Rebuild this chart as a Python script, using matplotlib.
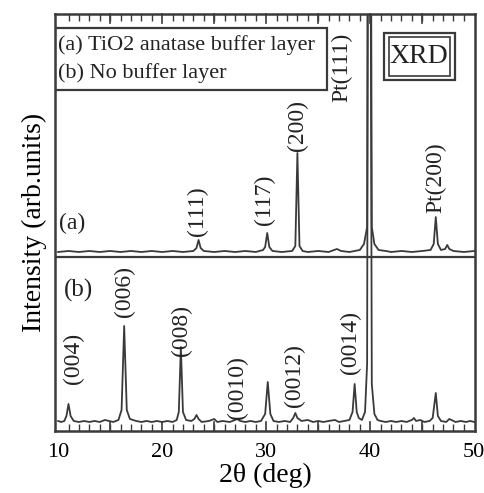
import numpy as np
import matplotlib.pyplot as plt
from matplotlib.patches import Rectangle
from matplotlib.ticker import MultipleLocator

plt.rcParams['font.family'] = ['Liberation Serif', 'DejaVu Serif']

# curve (b): no buffer layer, 2theta (deg) and intensity (arb.)
tt_b = [10.0, 10.3, 10.6, 10.8, 11.0, 11.2, 11.5, 12.0, 12.5, 13.0, 13.5, 14.0, 14.5,
        15.3, 15.8, 16.1, 16.35, 16.6, 16.9, 17.5, 18.0, 18.5, 19.0, 19.5, 20.0, 20.5,
        21.0, 21.4, 21.6, 21.8, 22.0, 22.3, 22.8, 23.1, 23.3, 23.5, 23.8, 24.5, 25.0,
        25.3, 25.8, 26.5, 27.0, 27.2, 27.5, 28.0, 28.5, 29.0, 29.5, 29.9, 30.15, 30.4,
        30.7, 31.2, 31.8, 32.3, 32.6, 32.8, 33.0, 33.4, 34.0, 34.5, 35.0, 35.5, 36.0,
        36.6, 37.0, 37.5, 38.0, 38.3, 38.5, 38.7, 38.9, 39.2, 39.5, 39.7, 39.82, 39.98,
        40.15, 40.4, 40.7, 41.0, 41.5, 42.0, 42.5, 43.0, 43.5, 44.0, 44.2, 44.4, 44.8,
        45.2, 45.7, 46.0, 46.3, 46.5, 46.8, 47.3, 47.6, 47.8, 48.2, 48.7, 49.2, 49.6, 50.0]
int_b = [3, 2, 3, 8, 20, 8, 3, 2, 3, 2, 3, 2, 4,
         2, 4, 14, 98, 14, 5, 3, 2, 3, 2, 3, 2, 3,
         2, 4, 12, 77, 12, 4, 3, 5, 9, 5, 2, 3, 5,
         2, 3, 2, 4, 5, 3, 2, 3, 2, 3, 10, 42, 10,
         3, 2, 3, 2, 6, 11, 6, 3, 4, 2, 3, 2, 3,
         4, 2, 3, 4, 12, 40, 12, 6, 4, 12, 60, 700, 700,
         40, 10, 4, 3, 2, 3, 2, 3, 2, 4, 6, 3, 4,
         2, 3, 6, 31, 8, 3, 2, 5, 4, 2, 3, 2, 3, 2]

# curve (a): TiO2 anatase buffer layer
tt_a = [10.0, 11.0, 12.0, 13.0, 14.0, 15.0, 16.0, 17.0, 18.0, 19.0, 20.0, 21.0, 22.0,
        23.0, 23.3, 23.5, 23.7, 24.0, 25.0, 26.0, 27.0, 28.0, 29.0, 29.7, 29.9, 30.1,
        30.3, 30.6, 31.5, 32.5, 32.8, 33.0, 33.2, 33.5, 34.0, 35.0, 36.0, 36.8, 37.2,
        38.0, 39.0, 39.4, 39.7, 39.82, 39.98, 40.15, 40.4, 40.8, 41.5, 42.0, 43.0, 44.0,
        45.0, 45.8, 46.1, 46.3, 46.5, 46.8, 47.2, 47.4, 47.6, 48.0, 49.0, 50.0]
int_a = [0, 1, 0, 1, 0, 1, 0, 1, 0, 1, 0, 1, 0,
         1, 4, 12, 4, 1, 0, 1, 0, 1, 0, 2, 5, 19,
         5, 1, 0, 1, 6, 99, 6, 1, 0, 1, 0, 3, 1,
         0, 2, 8, 25, 700, 700, 25, 8, 2, 1, 0, 1, 0,
         1, 2, 8, 35, 8, 2, 3, 7, 3, 1, 0, 1]

peak_labels_a = ['(111)', '(117)', '(200)', 'Pt(111)', 'Pt(200)']
peak_pos_a = [23.4, 29.85, 33.0, 37.3, 46.3]
peak_lab_y_a = [220, 231, 305, 364, 253]
peak_labels_b = ['(004)', '(006)', '(008)', '(0010)', '(0012)', '(0014)']
peak_pos_b = [11.45, 16.4, 21.9, 27.25, 32.7, 38.1]
peak_lab_y_b = [73, 139, 100, 43, 55, 88]

off_a = 179
off_b = 7
lc = '#3a3a3a'

fig = plt.figure(figsize=(4.84, 4.93), dpi=100)
ax = fig.add_axes([0.1136, 0.1258, 0.981 - 0.1136, 0.9716 - 0.1258])

ax.plot(tt_b, np.array(int_b) + off_b, color=lc, lw=1.3)
ax.plot(tt_a, np.array(int_a) + off_a, color=lc, lw=1.3)
ax.axhline(174, color=lc, lw=1.6)

ax.set_xlim(9.7, 50.05)
ax.set_ylim(0, 417)

for lab, x, y in zip(peak_labels_a, peak_pos_a, peak_lab_y_a):
    ax.text(x, y, lab, rotation=90, ha='center', va='center', fontsize=17, color='#222')
for lab, x, y in zip(peak_labels_b, peak_pos_b, peak_lab_y_b):
    ax.text(x, y, lab, rotation=90, ha='center', va='center', fontsize=17, color='#222')

ax.text(11.34, 208, '(a)', ha='center', va='center', fontsize=17, color='#222')
ax.text(12.0, 141, '(b)', ha='center', va='center', fontsize=18, color='#222')

# legend box
ax.add_patch(Rectangle((0.0, 0.818), 0.648, 0.148, transform=ax.transAxes,
                       fill=False, ec=lc, lw=1.6, zorder=3))
ax.text(0.006, 0.925, '(a) TiO2 anatase buffer layer', transform=ax.transAxes,
        ha='left', va='center', fontsize=16, color='#222')
ax.text(0.006, 0.858, '(b) No buffer layer', transform=ax.transAxes,
        ha='left', va='center', fontsize=16, color='#222')

# XRD double box
ax.add_patch(Rectangle((0.783, 0.841), 0.169, 0.113, transform=ax.transAxes,
                       fill=False, ec=lc, lw=1.6))
ax.add_patch(Rectangle((0.795, 0.851), 0.145, 0.093, transform=ax.transAxes,
                       fill=False, ec=lc, lw=1.2))
ax.text(0.8675, 0.8975, 'XRD', transform=ax.transAxes, ha='center', va='center',
        fontsize=20, color='#222')

ax.xaxis.set_major_locator(MultipleLocator(10))
ax.xaxis.set_minor_locator(MultipleLocator(1))
ax.tick_params(axis='x', which='both', direction='in', top=True, bottom=True,
               color=lc, labelsize=16, pad=9)
ax.tick_params(axis='x', which='major', length=0)
ax.tick_params(axis='x', which='minor', length=5, width=1)
for xm in range(15, 50, 5):
    ax.plot([xm, xm], [417, 408], color=lc, lw=1.2, clip_on=False)
    ax.plot([xm, xm], [0, 9], color=lc, lw=1.2, clip_on=False)
ax.set_yticks([])
for s in ax.spines.values():
    s.set_color(lc)
    s.set_linewidth(1.8)

ax.set_xlabel('2θ (deg)', fontsize=20, labelpad=0)
ax.set_ylabel('Intensity (arb.units)', fontsize=20, labelpad=6)

fig.savefig('out.png', dpi=100)
